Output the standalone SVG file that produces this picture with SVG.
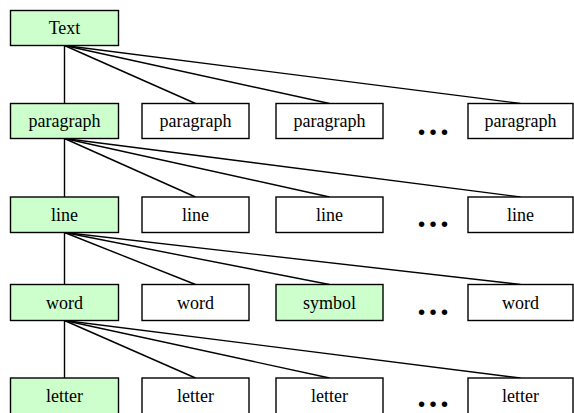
<svg xmlns="http://www.w3.org/2000/svg" width="574" height="413" viewBox="0 0 574 413">
<style>
.box{stroke:#000;stroke-width:1.4;fill:#fff}
.hl{fill:#ccffcc}
.lbl{font-family:'Liberation Serif','Times New Roman',serif;font-size:18px;text-anchor:middle;fill:#000}
.dots{font-family:'Liberation Serif','Times New Roman',serif;font-size:34px;font-weight:bold;text-anchor:middle;fill:#000}
.con line{stroke:#000;stroke-width:1.4}
</style>
<rect width="574" height="413" fill="#fff"/>
<g class="con">
<line x1="64.5" y1="45.5" x2="64.5" y2="103.5"/>
<line x1="64.5" y1="45.5" x2="195.5" y2="103.5"/>
<line x1="64.5" y1="45.5" x2="329.5" y2="103.5"/>
<line x1="64.5" y1="45.5" x2="520.5" y2="103.5"/>
<line x1="64.5" y1="138.5" x2="64.5" y2="197"/>
<line x1="64.5" y1="138.5" x2="195.5" y2="197"/>
<line x1="64.5" y1="138.5" x2="329.5" y2="197"/>
<line x1="64.5" y1="138.5" x2="520.5" y2="197"/>
<line x1="64.5" y1="232.5" x2="64.5" y2="284.5"/>
<line x1="64.5" y1="232.5" x2="195.5" y2="284.5"/>
<line x1="64.5" y1="232.5" x2="329.5" y2="284.5"/>
<line x1="64.5" y1="232.5" x2="520.5" y2="284.5"/>
<line x1="64.5" y1="320.5" x2="64.5" y2="378"/>
<line x1="64.5" y1="320.5" x2="195.5" y2="378"/>
<line x1="64.5" y1="320.5" x2="329.5" y2="378"/>
<line x1="64.5" y1="320.5" x2="520.5" y2="378"/>
</g>
<g id="text"><rect class="box hl" x="10.5" y="10.5" width="108" height="35"/><text class="lbl" x="64.5" y="34">Text</text></g>
<g id="paragraph1"><rect class="box hl" x="10.5" y="103.5" width="108" height="35"/><text class="lbl" x="64.5" y="127">paragraph</text></g>
<g id="paragraph2"><rect class="box" x="142" y="103.5" width="107" height="35"/><text class="lbl" x="195.5" y="127">paragraph</text></g>
<g id="paragraph3"><rect class="box" x="276" y="103.5" width="107" height="35"/><text class="lbl" x="329.5" y="127">paragraph</text></g>
<g id="dots1"><text class="dots" x="433" y="135">…</text></g>
<g id="paragraph4"><rect class="box" x="468" y="103.5" width="105" height="35"/><text class="lbl" x="520.5" y="127">paragraph</text></g>
<g id="line1"><rect class="box hl" x="10.5" y="197" width="108" height="35.5"/><text class="lbl" x="64.5" y="221">line</text></g>
<g id="line2"><rect class="box" x="142" y="197" width="107" height="35.5"/><text class="lbl" x="195.5" y="221">line</text></g>
<g id="line3"><rect class="box" x="276" y="197" width="107" height="35.5"/><text class="lbl" x="329.5" y="221">line</text></g>
<g id="dots2"><text class="dots" x="433" y="227">…</text></g>
<g id="line4"><rect class="box" x="468" y="197" width="105" height="35.5"/><text class="lbl" x="520.5" y="221">line</text></g>
<g id="word1"><rect class="box hl" x="10.5" y="284.5" width="108" height="36"/><text class="lbl" x="64.5" y="308.5">word</text></g>
<g id="word2"><rect class="box" x="142" y="284.5" width="107" height="36"/><text class="lbl" x="195.5" y="308.5">word</text></g>
<g id="symbol"><rect class="box hl" x="276" y="284.5" width="107" height="36"/><text class="lbl" x="329.5" y="308.5">symbol</text></g>
<g id="dots3"><text class="dots" x="433" y="315">…</text></g>
<g id="word4"><rect class="box" x="468" y="284.5" width="105" height="36"/><text class="lbl" x="520.5" y="308.5">word</text></g>
<g id="letter1"><rect class="box hl" x="10.5" y="378" width="108" height="36"/><text class="lbl" x="64.5" y="402">letter</text></g>
<g id="letter2"><rect class="box" x="142" y="378" width="107" height="36"/><text class="lbl" x="195.5" y="402">letter</text></g>
<g id="letter3"><rect class="box" x="276" y="378" width="107" height="36"/><text class="lbl" x="329.5" y="402">letter</text></g>
<g id="dots4"><text class="dots" x="433" y="407">…</text></g>
<g id="letter4"><rect class="box" x="468" y="378" width="105" height="36"/><text class="lbl" x="520.5" y="402">letter</text></g>
</svg>
